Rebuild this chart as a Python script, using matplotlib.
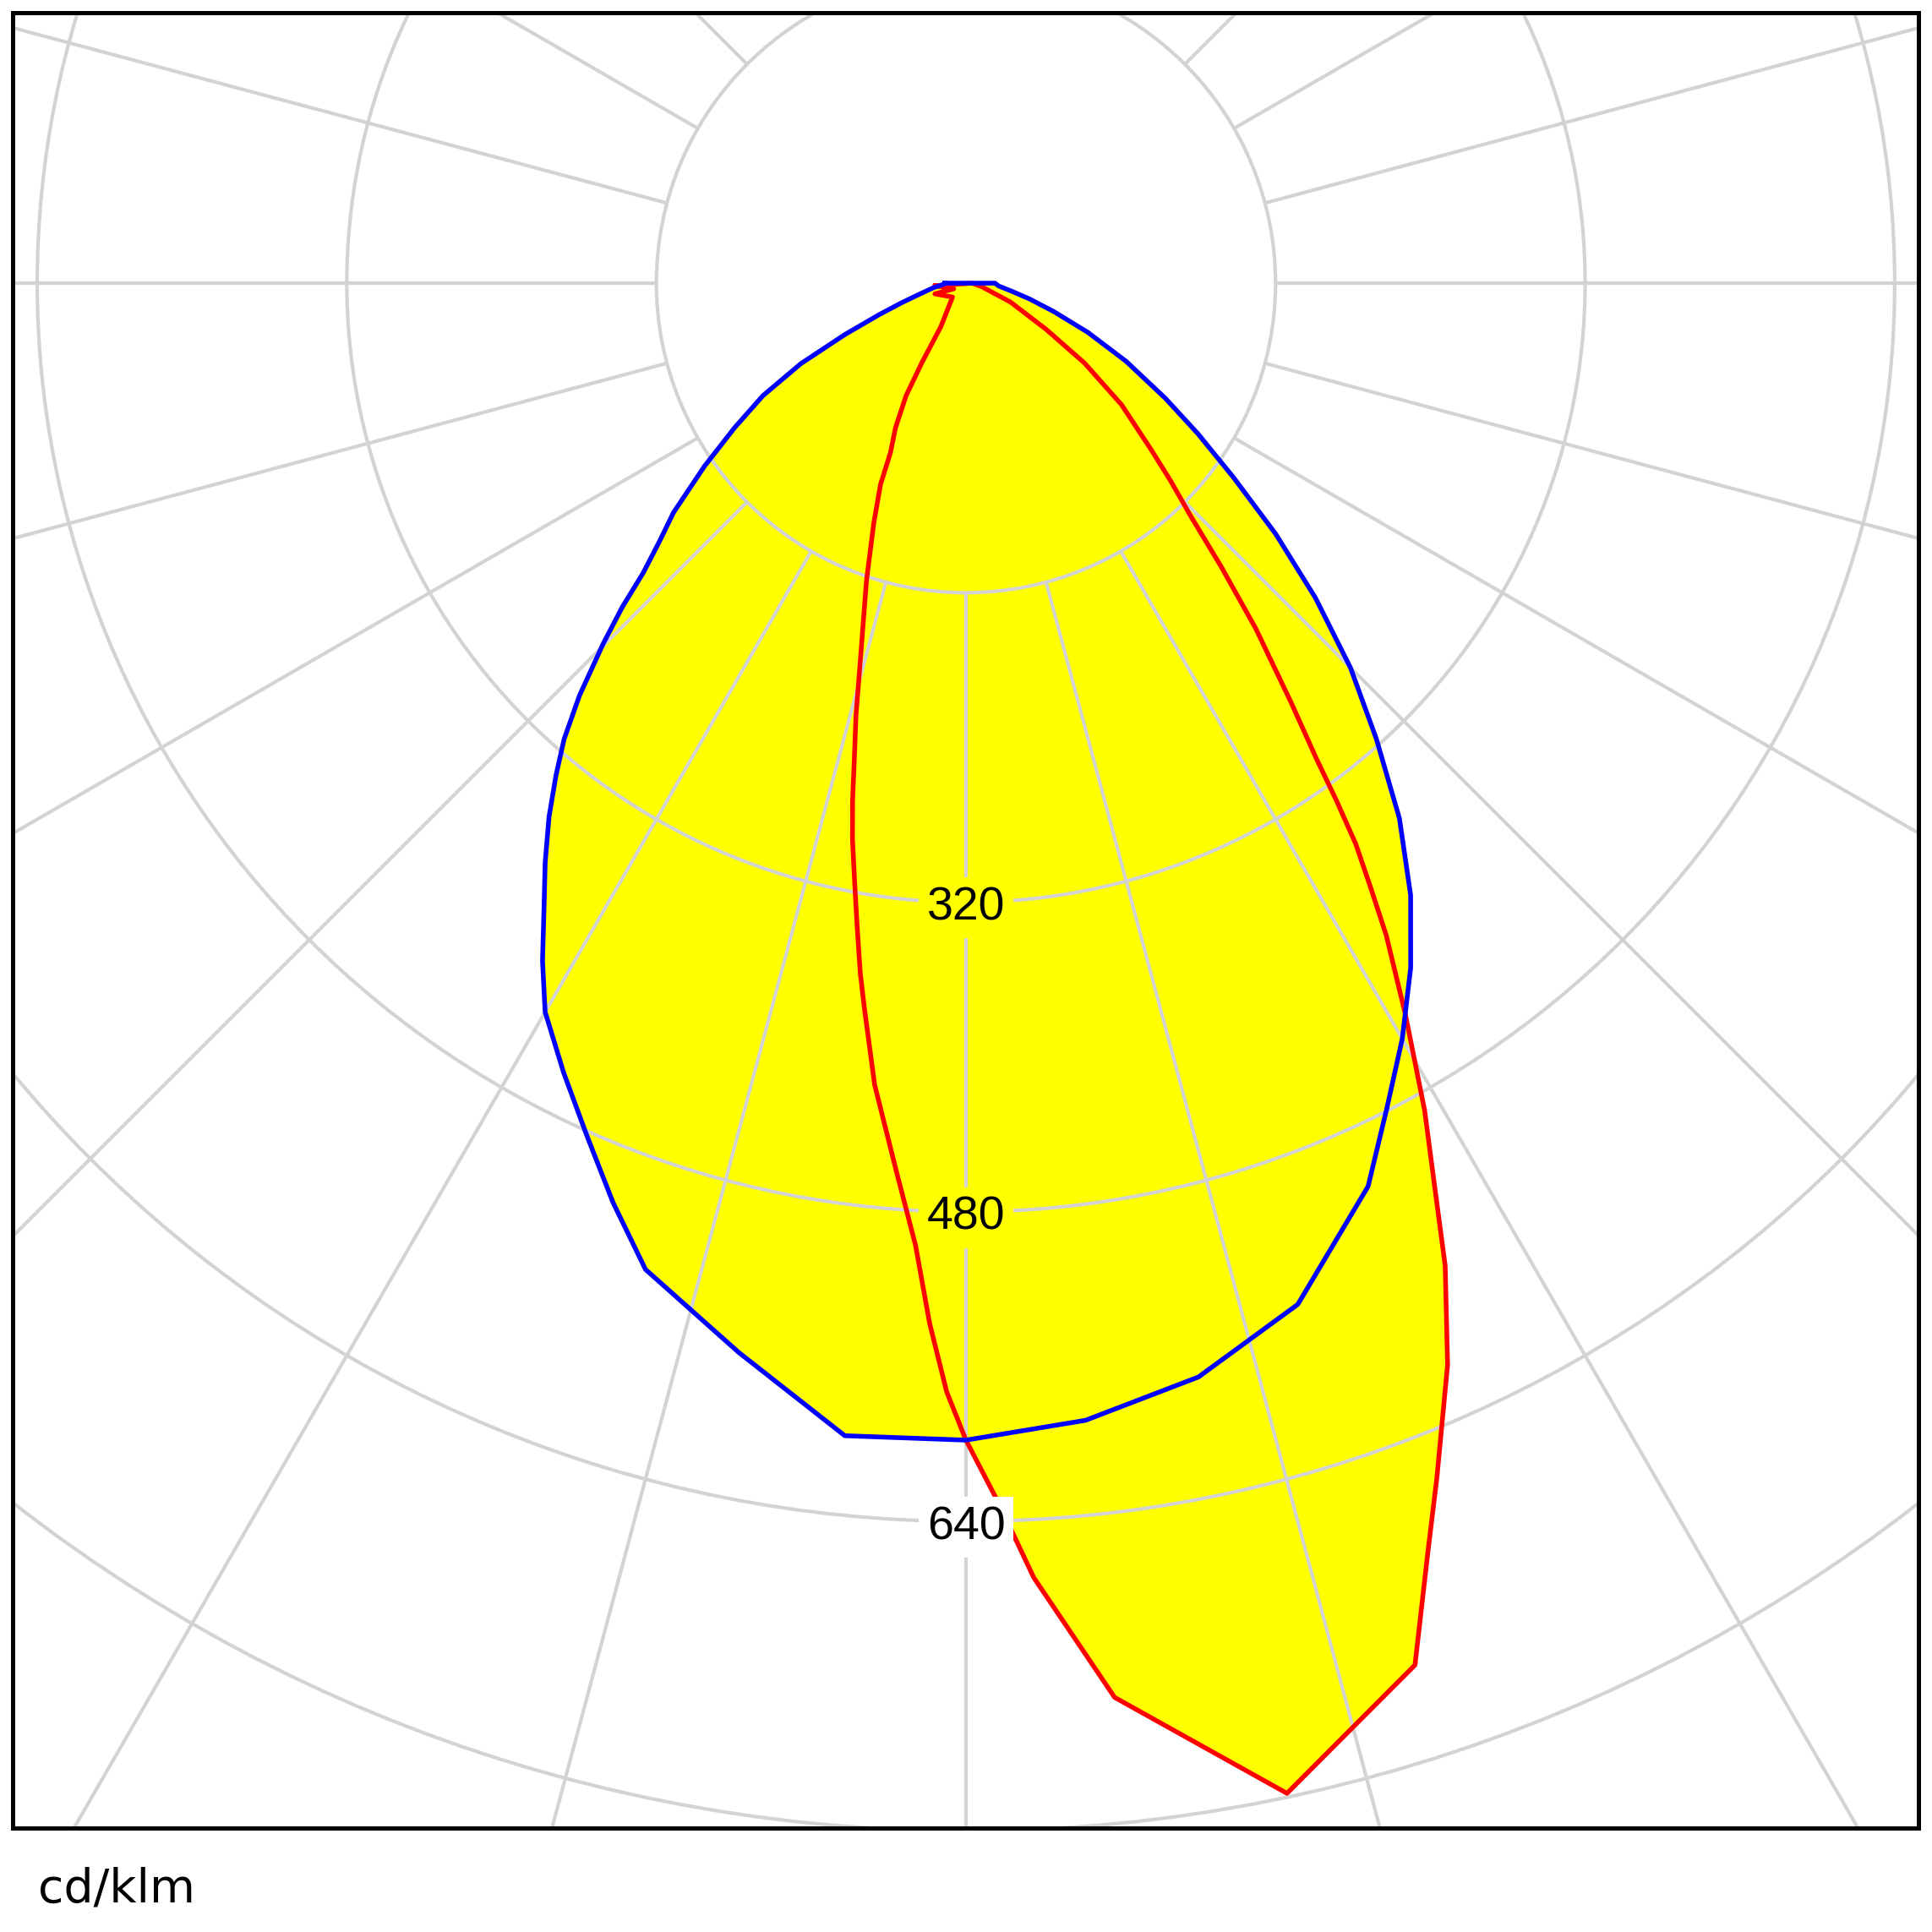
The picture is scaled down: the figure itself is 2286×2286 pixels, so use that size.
import numpy as np
import matplotlib
matplotlib.use("Agg")
import matplotlib.pyplot as plt
from matplotlib.patches import Circle
from matplotlib.path import Path

# luminous intensity, cd/klm, angle from nadir in degrees (positive = right)
blue_angles = [-90, -88, -82, -77, -73, -70, -67, -64, -61, -58, -55, -51.9, -49.9, -48.1,
               -46.7, -45.2, -43.15, -41.4, -39.8, -38, -36, -34, -32, -30, -27, -24, -21,
               -18, -12, -6, 0, 6, 12, 18, 24, 27, 30, 33, 36, 39, 42, 45, 48, 51, 54, 57,
               60, 64, 68, 72, 76, 80, 85, 90]
blue_values = [11, 11, 17, 24, 35, 48, 68, 95, 120, 141, 165, 192, 207, 224,
               244, 264, 292, 314, 331, 350, 370, 390, 413, 435, 458, 482, 509,
               536, 565, 599, 598, 591, 578, 555, 511, 479, 451, 422, 391, 356, 317, 281, 243, 206, 171, 143,
               119, 92, 68, 48, 34, 24, 17, 15]

red_angles = [-85, -65, -71, -44, -30, -29, -28, -26, -24, -23, -21, -18.5, -15.5, -14.3,
              -13.1, -12.35, -11.55, -10.7, -9.65, -8.7, -7.95, -6.5, -4.5, -3, -2, -1, 0, 1.5, 3,
              6, 12, 18, 20, 21.5, 24, 26, 27.5, 29, 31, 32.8, 33.8, 34.8, 35.6, 36.4, 37.8,
              40, 42, 44, 46, 48, 52, 56, 60, 67, 78, 90]
red_values = [16, 7, 17, 10, 26, 47, 66, 83, 96, 113, 133, 162, 205, 230,
              255, 274, 293, 311, 336, 361, 379, 417, 460, 498, 538, 573, 598, 630, 670,
              735, 798, 751, 698, 664, 612, 565, 524, 489, 441, 401, 376, 353, 329, 305, 274,
              233, 197, 167, 147, 129, 102, 74, 48, 25, 8, 3]

ring_values = [160, 320, 480, 640, 800, 960]
label_values = [320, 480, 640]
spoke_angles = np.arange(0, 360, 15)

GRID = "#d3d3d3"
FILL = "#ffff00"


def to_xy(angles, values):
    a = np.radians(np.asarray(angles, float))
    v = np.asarray(values, float)
    return v * np.sin(a), -v * np.cos(a)


fig = plt.figure(figsize=(22.86, 22.86), dpi=100)
ax = fig.add_axes([0.00656, 0.05381, 0.98644, 0.93963])
ax.set_xlim(-492.7, 492.3)
ax.set_ylim(-798.5, 139.8)
ax.set_xticks([])
ax.set_yticks([])
for s in ax.spines.values():
    s.set_linewidth(3.6)
    s.set_zorder(10)

bx, by = to_xy(blue_angles, blue_values)
rx, ry = to_xy(red_angles, red_values)

# union fill of both planes
ax.fill(bx, by, color=FILL, lw=0, zorder=1)
ax.fill(rx, ry, color=FILL, lw=0, zorder=1)

# polar grid
for r in ring_values:
    ax.add_patch(Circle((0, 0), r, fill=False, ec=GRID, lw=3.0, zorder=2))
for a in spoke_angles:
    t = np.radians(a)
    ax.plot([160 * np.sin(t), 1300 * np.sin(t)], [-160 * np.cos(t), -1300 * np.cos(t)],
            color=GRID, lw=3.0, zorder=2, solid_capstyle="butt")

ax.plot(np.append(rx, rx[0]), np.append(ry, ry[0]), color="#ff0000", lw=4.0, zorder=3)
ax.plot(np.append(bx, bx[0]), np.append(by, by[0]), color="#0000ff", lw=4.0, zorder=4)

blue_path = Path(np.column_stack([bx, by]))
red_path = Path(np.column_stack([rx, ry]))
for v in label_values:
    inside = blue_path.contains_point((0, -v)) or red_path.contains_point((0, -v))
    fc = FILL if inside else "white"
    ax.text(0, -v - 3, str(v), ha="center", va="center", fontsize=40, zorder=6,
            family=["Liberation Sans", "DejaVu Sans"],
            bbox=dict(boxstyle="square,pad=0.18", fc=fc, ec="none"))

fig.text(0.0197, 0.0157, "cd/klm", fontsize=40, ha="left", va="baseline")

fig.savefig("out.png", dpi=100)
